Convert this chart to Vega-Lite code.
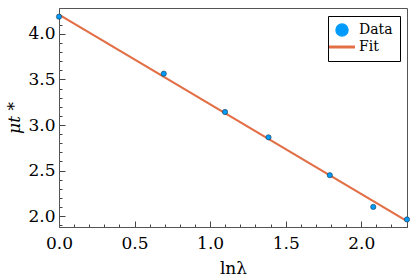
{
  "$schema": "https://vega.github.io/schema/vega-lite/v6.json",
  "width": 348,
  "height": 219,
  "autosize": {"type": "none"},
  "padding": {"left": 59, "top": 8, "right": 8, "bottom": 50},
  "background": "white",
  "config": {
    "font": "DejaVu Serif",
    "view": {"stroke": "#555555", "strokeWidth": 1},
    "axis": {
      "domainColor": "#555555",
      "tickColor": "#444444",
      "labelFont": "DejaVu Serif",
      "labelFontSize": 17,
      "labelColor": "black",
      "titleFont": "DejaVu Serif",
      "titleFontSize": 17,
      "titleFontWeight": "normal",
      "titleColor": "black",
      "grid": false,
      "labelOverlap": false,
      "tickCount": 40
    }
  },
  "datasets": {
    "pts": [
      {"x": 0.0, "y": 4.19, "series": "Data"},
      {"x": 0.6931, "y": 3.564, "series": "Data"},
      {"x": 1.0986, "y": 3.143, "series": "Data"},
      {"x": 1.3863, "y": 2.865, "series": "Data"},
      {"x": 1.7918, "y": 2.449, "series": "Data"},
      {"x": 2.0794, "y": 2.101, "series": "Data"},
      {"x": 2.3026, "y": 1.963, "series": "Data"}
    ],
    "fit": [
      {"x": 0.0, "y": 4.212, "series": "Fit"},
      {"x": 2.3026, "y": 1.944, "series": "Fit"}
    ]
  },
  "layer": [
    {
      "data": {"name": "fit"},
      "mark": {"type": "line", "strokeWidth": 2.2, "clip": false},
      "encoding": {
        "x": {
          "field": "x", "type": "quantitative",
          "scale": {"domain": [0, 2.3026], "nice": false, "zero": false},
          "axis": {
            "title": "lnλ",
            "values": [0,0.1,0.2,0.3,0.4,0.5,0.6,0.7,0.8,0.9,1.0,1.1,1.2,1.3,1.4,1.5,1.6,1.7,1.8,1.9,2.0,2.1,2.2,2.3],
            "tickCount": 40,
            "labelExpr": "abs(datum.value*2 - round(datum.value*2)) < 0.001 ? format(datum.value, '.1f') : ''",
            "tickSize": {"condition": {"test": "abs(datum.value*2 - round(datum.value*2)) < 0.001", "value": -6}, "value": -3},
            "labelPadding": 14,
            "labelFlush": false,
            "labelOverlap": false,
            "titlePadding": 6
          }
        },
        "y": {
          "field": "y", "type": "quantitative",
          "scale": {"domain": [1.88, 4.285], "nice": false, "zero": false},
          "axis": {
            "title": "μt *",
            "titleFontStyle": "italic",
            "values": [1.9,2.0,2.1,2.2,2.3,2.4,2.5,2.6,2.7,2.8,2.9,3.0,3.1,3.2,3.3,3.4,3.5,3.6,3.7,3.8,3.9,4.0,4.1,4.2],
            "tickCount": 40,
            "labelExpr": "abs(datum.value*2 - round(datum.value*2)) < 0.001 ? format(datum.value, '.1f') : ''",
            "tickSize": {"condition": {"test": "abs(datum.value*2 - round(datum.value*2)) < 0.001", "value": -6}, "value": -3},
            "labelPadding": 10,
            "labelFlush": false,
            "labelOverlap": false,
            "titlePadding": 4
          }
        },
        "color": {
          "field": "series", "type": "nominal",
          "scale": {"domain": ["Data", "Fit"], "range": ["#009AFA", "#E26F46"]},
          "legend": {
            "title": null,
            "orient": "none",
            "legendX": 269,
            "legendY": 8,
            "strokeColor": "black",
            "fillColor": "white",
            "padding": 7,
            "labelFont": "DejaVu Serif",
            "labelFontSize": 14,
            "labelColor": "black",
            "symbolSize": 150,
            "symbolStrokeColor": "black",
            "symbolStrokeWidth": 1,
            "rowPadding": 1,
            "labelOffset": 10,
            "encode": {
              "symbols": {
                "update": {
                  "shape": {"signal": "datum.value === 'Data' ? 'circle' : 'stroke'"},
                  "fill": {"signal": "datum.value === 'Data' ? '#009AFA' : 'transparent'"},
                  "stroke": {"signal": "datum.value === 'Data' ? '#000000' : '#E26F46'"},
                  "strokeWidth": {"signal": "datum.value === 'Data' ? 1.2 : 3"},
                  "strokeOpacity": {"value": 1},
                  "opacity": {"value": 1},
                  "size": {"signal": "datum.value === 'Data' ? 150 : 676"}
                }
              }
            }
          }
        }
      }
    },
    {
      "data": {"name": "pts"},
      "mark": {"type": "point", "filled": true, "size": 28, "stroke": "#222222", "strokeWidth": 0.5, "opacity": 1, "clip": false},
      "encoding": {
        "x": {"field": "x", "type": "quantitative"},
        "y": {"field": "y", "type": "quantitative"},
        "color": {"field": "series", "type": "nominal"}
      }
    }
  ]
}
